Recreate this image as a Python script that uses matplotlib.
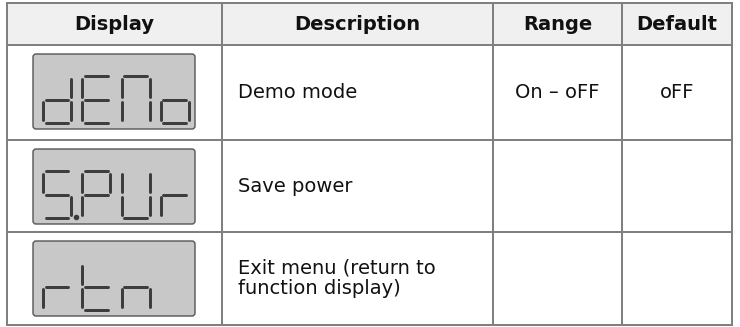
import matplotlib
matplotlib.use("Agg")
import matplotlib.pyplot as plt
from matplotlib.patches import Rectangle, FancyBboxPatch

# ---- data ----
headers = ["Display", "Description", "Range", "Default"]
displays = ["dEMo", "S.PUr", "rtn"]
descriptions = ["Demo mode", "Save power", "Exit menu (return to\nfunction display)"]
ranges = ["On \u2013 oFF", "", ""]
defaults = ["oFF", "", ""]

# ---- layout (pixel coordinates) ----
W, H = 740, 327
col_edges = [7, 222, 493, 622, 732]
row_edges = [3, 45, 140, 232, 325]
grid_col = "#808080"
header_bg = "#f0f0f0"
seg_col = "#3d3d3d"
box_fill = "#c8c8c8"
box_edge = "#555555"
FONT = "DejaVu Sans"
FS = 14.0

SEGMENTS = {
    "d": "bcdeg", "E": "adefg", "M": "abcef", "o": "cdeg",
    "S": "acdfg", "P": "abefg", "U": "bcdef", "r": "eg",
    "t": "defg", "n": "ceg",
}

fig = plt.figure(figsize=(W / 100, H / 100), dpi=100)
ax = fig.add_axes([0, 0, 1, 1])
ax.set_xlim(0, W)
ax.set_ylim(H, 0)
ax.axis("off")

# header background
ax.add_patch(Rectangle((col_edges[0], row_edges[0]), col_edges[-1] - col_edges[0],
                       row_edges[1] - row_edges[0], facecolor=header_bg, edgecolor="none"))

lw = 2 * 72 / 100
for x in col_edges:
    ax.plot([x, x], [row_edges[0], row_edges[-1]], color=grid_col, lw=lw, solid_capstyle="projecting")
for y in row_edges:
    ax.plot([col_edges[0], col_edges[-1]], [y, y], color=grid_col, lw=lw, solid_capstyle="projecting")

# header text
for i, h in enumerate(headers):
    cx = (col_edges[i] + col_edges[i + 1]) / 2
    ax.text(cx, (row_edges[0] + row_edges[1]) / 2 + 1, h, ha="center", va="center",
            fontsize=FS, fontweight="bold", family=FONT, color="#111111")


def draw_digit(x0, y0, ch, w=28, h=47, g=2.6):
    segs = {
        "a": [(x0 + g, y0), (x0 + w - g, y0)],
        "b": [(x0 + w, y0 + g), (x0 + w, y0 + h / 2 - g)],
        "c": [(x0 + w, y0 + h / 2 + g), (x0 + w, y0 + h - g)],
        "d": [(x0 + g, y0 + h), (x0 + w - g, y0 + h)],
        "e": [(x0, y0 + h / 2 + g), (x0, y0 + h - g)],
        "f": [(x0, y0 + g), (x0, y0 + h / 2 - g)],
        "g": [(x0 + g, y0 + h / 2), (x0 + w - g, y0 + h / 2)],
    }
    for s in SEGMENTS[ch]:
        (xa, ya), (xb, yb) = segs[s]
        ax.plot([xa, xb], [ya, yb], color=seg_col, lw=3.0 * 72 / 100, solid_capstyle="round")


for r in range(len(displays)):
    top, bot = row_edges[r + 1], row_edges[r + 2]
    box_top = top + 9
    ax.add_patch(FancyBboxPatch((33, box_top), 162, 75,
                                boxstyle="round,pad=0,rounding_size=3",
                                facecolor=box_fill, edgecolor=box_edge, lw=1.0))
    pos = 0
    for ch in displays[r]:
        if ch == ".":
            x_prev = 43 + (pos - 1) * 39.3
            ax.plot([x_prev + 33], [box_top + 68], marker="o", ms=4, color=seg_col, mec="none")
            continue
        draw_digit(43 + pos * 39.3, box_top + 22, ch)
        pos += 1

    cy = (top + bot) / 2
    ax.text(238, cy, descriptions[r], ha="left", va="center", fontsize=FS,
            family=FONT, color="#111111", linespacing=1.1)
    ax.text((col_edges[2] + col_edges[3]) / 2, cy, ranges[r], ha="center", va="center",
            fontsize=FS, family=FONT, color="#111111")
    ax.text((col_edges[3] + col_edges[4]) / 2, cy, defaults[r], ha="center", va="center",
            fontsize=FS, family=FONT, color="#111111")

fig.savefig("out.png", dpi=100, facecolor="white")
